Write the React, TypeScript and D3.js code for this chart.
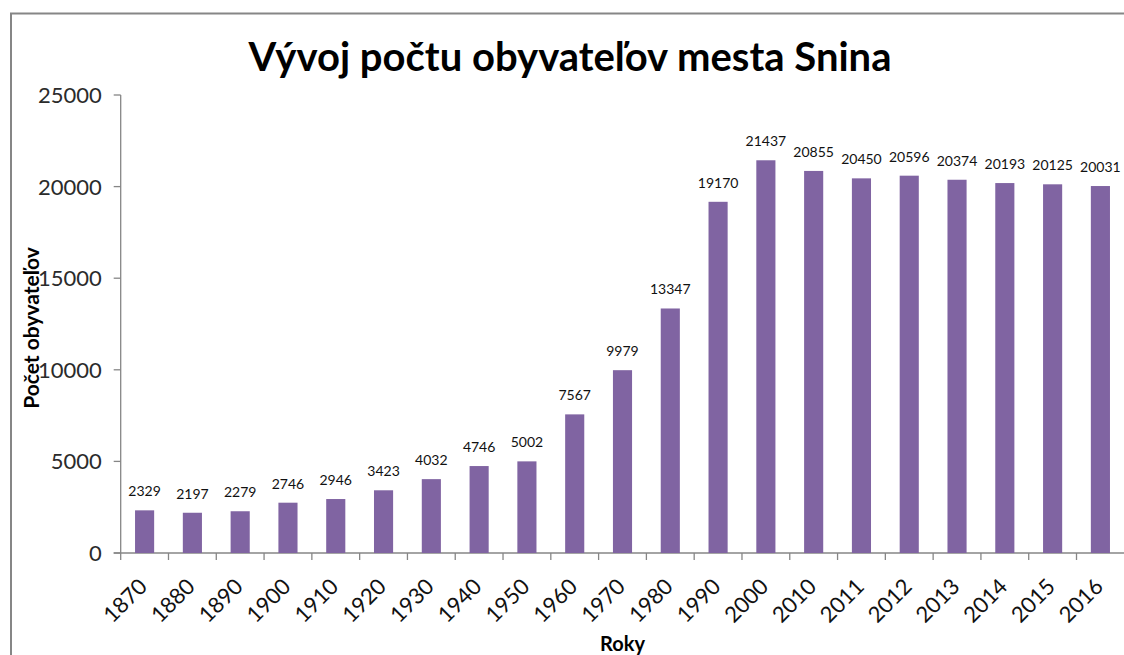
import React, { useEffect, useRef } from 'react';
import * as d3 from 'd3';

// Data
const years = ['1870', '1880', '1890', '1900', '1910', '1920', '1930', '1940', '1950', '1960', '1970',
    '1980', '1990', '2000', '2010', '2011', '2012', '2013', '2014', '2015', '2016'];
const population = [2329, 2197, 2279, 2746, 2946, 3423, 4032, 4746, 5002, 7567, 9979,
    13347, 19170, 21437, 20855, 20450, 20596, 20374, 20193, 20125, 20031];
const yTicks = [0, 5000, 10000, 15000, 20000, 25000];

const title = 'Vývoj počtu obyvateľov mesta Snina';
const yTitle = 'Počet obyvateľov';
const xTitle = 'Roky';

const FONT = 'Lato, "Open Sans", sans-serif';

const SninaChart = () => {
    const svgRef = useRef<SVGSVGElement>(null);

    useEffect(() => {
        document.documentElement.style.overflow = 'hidden';
        document.body.style.margin = '0';

        const svg = d3.select(svgRef.current);
        svg.selectAll('*').remove();

        const width = 1124;
        const height = 655;
        const plot = { left: 120.7, right: 1124.3, top: 95, bottom: 553 };

        svg.attr('width', width).attr('height', height);

        svg.append('rect')
            .attr('width', width)
            .attr('height', height)
            .attr('fill', '#fff');

        // Outer frame: only left and top edges are inside the picture
        svg.append('path')
            .attr('d', `M11,${height} V13.5 H${width}`)
            .attr('fill', 'none')
            .style('stroke', '#868686')
            .style('stroke-width', 2);

        // Scales
        const xScale = d3.scaleBand()
            .domain(years)
            .range([plot.left, plot.right])
            .padding(0);

        const yScale = d3.scaleLinear()
            .domain([0, 25000])
            .range([plot.bottom, plot.top]);

        const axisColor = '#868686';
        const g = svg.append('g');

        // Y axis
        g.append('line')
            .attr('x1', plot.left)
            .attr('x2', plot.left)
            .attr('y1', yScale(25000))
            .attr('y2', yScale(0))
            .style('stroke', axisColor)
            .style('stroke-width', 1.3);

        g.selectAll('.ytick')
            .data(yTicks)
            .enter()
            .append('line')
            .attr('class', 'ytick')
            .attr('x1', plot.left - 7)
            .attr('x2', plot.left)
            .attr('y1', d => yScale(d))
            .attr('y2', d => yScale(d))
            .style('stroke', axisColor)
            .style('stroke-width', 1.3);

        g.selectAll('.ylabel')
            .data(yTicks)
            .enter()
            .append('text')
            .attr('class', 'ylabel')
            .attr('x', plot.left - 19)
            .attr('y', d => yScale(d))
            .attr('dy', '0.36em')
            .attr('text-anchor', 'end')
            .style('font-family', FONT)
            .style('font-size', '22px')
            .style('fill', '#2b2b2b')
            .text(d => d);

        // X axis
        g.append('line')
            .attr('x1', plot.left - 7)
            .attr('x2', plot.right)
            .attr('y1', plot.bottom)
            .attr('y2', plot.bottom)
            .style('stroke', axisColor)
            .style('stroke-width', 1.3);

        g.selectAll('.xtick')
            .data(years)
            .enter()
            .append('line')
            .attr('class', 'xtick')
            .attr('x1', d => xScale(d)!)
            .attr('x2', d => xScale(d)!)
            .attr('y1', plot.bottom)
            .attr('y2', plot.bottom + 7)
            .style('stroke', axisColor)
            .style('stroke-width', 1.3);

        g.selectAll('.xlabel')
            .data(years)
            .enter()
            .append('text')
            .attr('class', 'xlabel')
            .attr('transform', d => `translate(${xScale(d)! + xScale.bandwidth() / 2 + 4}, ${plot.bottom + 35}) rotate(-45)`)
            .attr('text-anchor', 'end')
            .style('font-family', FONT)
            .style('font-size', '22px')
            .style('fill', '#111')
            .text(d => d);

        // Bars
        const barW = xScale.bandwidth() * 0.4;
        g.selectAll('.bar')
            .data(years)
            .enter()
            .append('rect')
            .attr('class', 'bar')
            .attr('x', d => xScale(d)! + (xScale.bandwidth() - barW) / 2)
            .attr('width', barW)
            .attr('y', (d, i) => yScale(population[i]))
            .attr('height', (d, i) => plot.bottom - yScale(population[i]))
            .style('fill', '#8064A2');

        // Value labels
        g.selectAll('.label')
            .data(years)
            .enter()
            .append('text')
            .attr('class', 'label')
            .attr('x', d => xScale(d)! + xScale.bandwidth() / 2)
            .attr('y', (d, i) => yScale(population[i]) - 14)
            .attr('text-anchor', 'middle')
            .style('font-family', FONT)
            .style('font-size', '14px')
            .style('fill', '#111')
            .text((d, i) => population[i]);

        // Title
        svg.append('text')
            .attr('x', 570)
            .attr('y', 71)
            .attr('text-anchor', 'middle')
            .style('font-family', FONT)
            .style('font-size', '40px')
            .style('font-weight', 'bold')
            .style('fill', '#000')
            .text(title);

        // Y axis title
        svg.append('text')
            .attr('transform', `translate(39, ${(plot.top + plot.bottom) / 2 + 4}) rotate(-90)`)
            .attr('text-anchor', 'middle')
            .style('font-family', FONT)
            .style('font-size', '21px')
            .style('font-weight', 'bold')
            .style('fill', '#000')
            .text(yTitle);

        // X axis title
        svg.append('text')
            .attr('x', (plot.left + plot.right) / 2)
            .attr('y', 651)
            .attr('text-anchor', 'middle')
            .style('font-family', FONT)
            .style('font-size', '20px')
            .style('font-weight', 'bold')
            .style('fill', '#000')
            .text(xTitle);
    }, []);

    return (
        <div style={{ position: 'absolute', left: 0, top: 0, width: 1124, height: 655, overflow: 'hidden' }}>
            <svg ref={svgRef} style={{ display: 'block' }}></svg>
        </div>
    );
};

export default function App() {
    return <SninaChart />;
}
